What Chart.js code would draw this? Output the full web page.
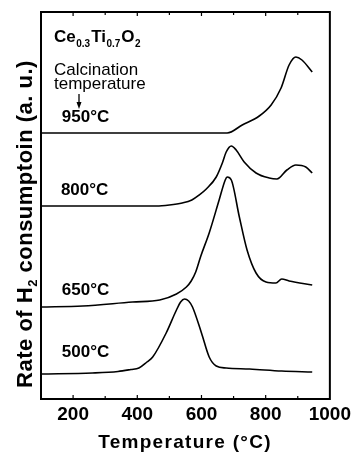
<!DOCTYPE html>
<html>
<head>
<meta charset="utf-8">
<script src="https://cdn.jsdelivr.net/npm/chart.js@4"></script>
<style>
  body { margin: 0; background: #fff; }
  canvas { display: block; }
</style>
</head>
<body>
<canvas id="myChart" width="355" height="453"></canvas>
<script>
// TPR curves, temperature (C) vs rate of H2 consumption (a.u., offset stacked)
const t500 = [100, 260, 340, 380, 405, 430, 448, 490, 522, 535, 547, 560, 572, 600, 624, 646, 677, 750, 850, 945];
const r500 = [25, 26, 27.5, 29.5, 31, 37, 42, 66, 89, 97, 100, 98, 92, 66, 42, 33, 31, 30, 28, 27];

const t650 = [100, 230, 385, 470, 522, 553, 568, 582, 598, 624, 655, 674, 680, 693, 718, 742, 770, 801, 832, 850, 873, 945];
const r650 = [92, 93, 97, 99, 105, 112, 118, 127, 143, 166, 199, 219, 222, 219, 182, 149, 126, 117, 116, 120, 118, 114];

const t800 = [100, 460, 500, 540, 570, 593, 615, 646, 665, 677, 693, 708, 733, 770, 811, 835, 866, 894, 925, 945];
const r800 = [193, 193, 194, 196, 199, 204, 210, 222, 236, 247, 253, 249, 237, 226, 221, 220, 229, 234, 232, 226];

const t950 = [100, 680, 727, 780, 817, 848, 873, 894, 913, 945];
const r950 = [266, 266, 274, 283, 294, 311, 334, 342, 339, 327];

const xTicks = [200, 400, 600, 800, 1000];
const curveLabels = ["950\u00b0C", "800\u00b0C", "650\u00b0C", "500\u00b0C"];
const labelT = [165, 162, 165, 165];
const labelR = [277, 204, 104, 42];

const ctx = document.getElementById("myChart");
const FONT = 'Arial, "Liberation Sans", sans-serif';

function pts(t, r) {
  return t.map((v, i) => ({ x: v, y: r[i] }));
}

function curve(t, r) {
  return {
    data: pts(t, r),
    borderColor: "#000",
    borderWidth: 1.6,
    pointRadius: 0,
    fill: false,
    cubicInterpolationMode: "monotone",
  };
}

const decor = {
  id: "decor",
  afterDraw(chart) {
    const c = chart.ctx;
    const a = chart.chartArea;
    const xs = chart.scales.x;
    const ys = chart.scales.y;
    c.save();
    c.strokeStyle = "#000";
    c.fillStyle = "#000";

    // frame
    c.lineWidth = 2;
    c.strokeRect(a.left, a.top, a.right - a.left, a.bottom - a.top);

    // inward ticks, bottom and top
    c.lineWidth = 1.2;
    for (let v = 200; v < 1000; v += 100) {
      const x = xs.getPixelForValue(v);
      const len = v % 200 === 0 ? 4 : 3;
      c.beginPath();
      c.moveTo(x, a.bottom);
      c.lineTo(x, a.bottom - len);
      c.moveTo(x, a.top);
      c.lineTo(x, a.top + len);
      c.stroke();
    }

    // curve labels
    c.font = "bold 17px " + FONT;
    c.textBaseline = "alphabetic";
    c.textAlign = "left";
    curveLabels.forEach((s, i) => {
      c.fillText(s, xs.getPixelForValue(labelT[i]), ys.getPixelForValue(labelR[i]));
    });

    // sample name with subscripts
    let x = 54;
    const base = 42;
    const parts = [["Ce", 0], ["0.3", 1], ["Ti", 0], ["0.7", 1], ["O", 0], ["2", 1]];
    parts.forEach(([s, sub]) => {
      c.font = sub ? "bold 10px " + FONT : "bold 17px " + FONT;
      c.fillText(s, x, sub ? base + 5 : base);
      x += c.measureText(s).width + (sub ? 1 : 0.5);
    });

    c.font = "17px " + FONT;
    c.fillText("Calcination", 54, 75);
    c.fillText("temperature", 54, 89);

    // arrow
    c.lineWidth = 1.3;
    c.beginPath();
    c.moveTo(79, 94);
    c.lineTo(79, 104);
    c.stroke();
    c.beginPath();
    c.moveTo(76.5, 102);
    c.lineTo(81.5, 102);
    c.lineTo(79, 109);
    c.closePath();
    c.fill();

    // x title
    c.font = "bold 19px " + FONT;
    c.letterSpacing = "1.3px";
    c.textAlign = "center";
    c.fillText("Temperature (\u00b0C)", 185, 448);

    // y title, rotated, with subscript
    c.translate(32, 224);
    c.rotate(-Math.PI / 2);
    c.letterSpacing = "0.5px";
    const segs = [["Rate of H", 0], ["2", 1], [" consumptoin (a. u.)", 0]];
    let total = 0;
    segs.forEach(([s, sub]) => {
      c.font = sub ? "bold 13px " + FONT : "bold 22px " + FONT;
      total += c.measureText(s).width;
    });
    let px = -total / 2;
    c.textAlign = "left";
    segs.forEach(([s, sub]) => {
      c.font = sub ? "bold 13px " + FONT : "bold 22px " + FONT;
      c.fillText(s, px, sub ? 5 : 0);
      px += c.measureText(s).width;
    });
    c.restore();
  },
};

new Chart(ctx, {
  type: "line",
  data: {
    datasets: [curve(t500, r500), curve(t650, r650), curve(t800, r800), curve(t950, r950)],
  },
  options: {
    responsive: false,
    animation: false,
    layout: { padding: { left: 41, right: 25, top: 12, bottom: 0 } },
    plugins: { legend: { display: false }, tooltip: { enabled: false } },
    scales: {
      x: {
        type: "linear",
        min: 100,
        max: 1000,
        afterBuildTicks: (s) => {
          s.ticks = xTicks.map((v) => ({ value: v }));
        },
        afterFit: (s) => {
          s.height = 54;
        },
        grid: { display: false, drawTicks: false },
        border: { display: false },
        ticks: {
          color: "#000",
          padding: 4,
          maxRotation: 0,
          callback: (v) => String(v),
          font: { family: FONT, size: 19, weight: "bold" },
        },
      },
      y: {
        type: "linear",
        min: 0,
        max: 387,
        display: false,
      },
    },
  },
  plugins: [decor],
});
</script>
</body>
</html>
